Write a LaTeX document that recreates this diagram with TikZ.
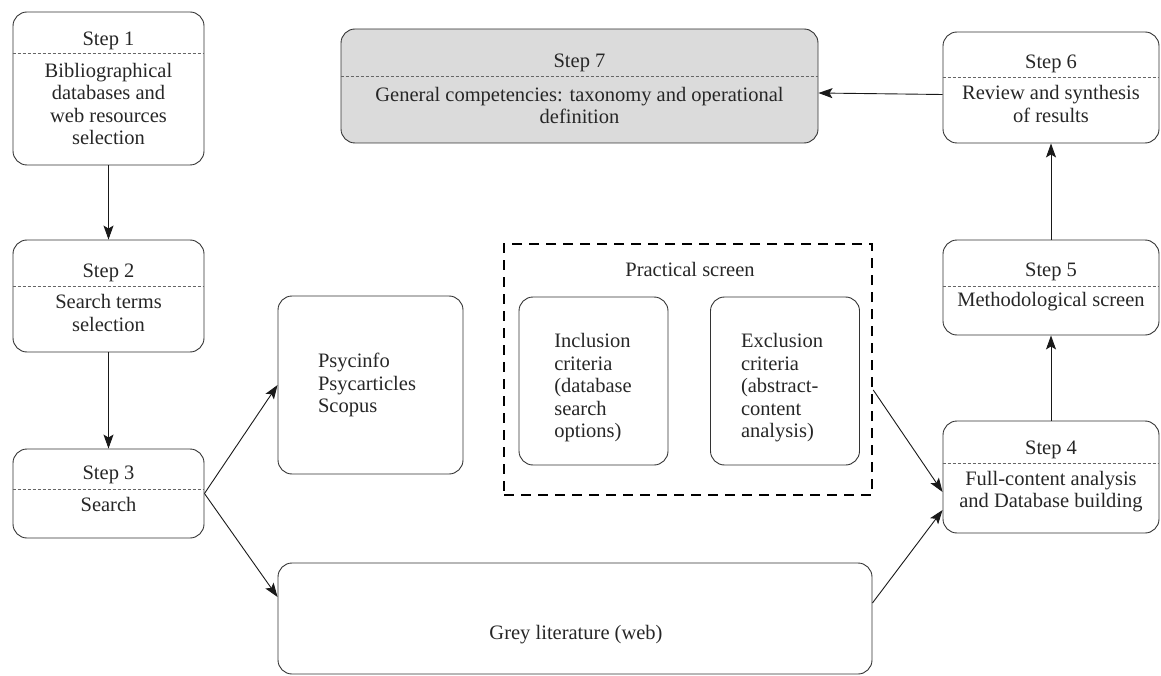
\documentclass[tikz,border=0pt]{standalone}
\usepackage{fontspec}
\setmainfont{Liberation Serif}
\usetikzlibrary{arrows.meta}

\begin{document}
\begin{tikzpicture}[x=1pt, y=-1pt,
        every node/.style={font=\fontsize{20.5}{22.5}\selectfont, text=black!85, inner sep=0pt},
        stepbox/.style={draw=black!80, line width=0.9pt, rounded corners=14pt},
        greybox/.style={stepbox, fill=black!14},
        screenbox/.style={draw=black, line width=2.5pt, dash pattern=on 10pt off 7pt},
        sepline/.style={draw=black!60, line width=0.8pt, dash pattern=on 3pt off 2pt},
        flow/.style={-{Stealth[length=14pt, width=10pt, inset=3pt]}, line width=0.9pt, black!90}]
        \useasboundingbox (0,0) rectangle (1161,676);

        \node[stepbox, minimum width=191pt, minimum height=153pt] (s1) at (108.5, 88.5) {};
        \node[stepbox, minimum width=191pt, minimum height=112pt] (s2) at (108.5, 296) {};
        \node[stepbox, minimum width=191pt, minimum height=89pt] (s3) at (108.5, 493.5) {};
        \node[stepbox, minimum width=216pt, minimum height=112pt] (s4) at (1051, 477) {};
        \node[stepbox, minimum width=216pt, minimum height=95pt] (s5) at (1051, 287.5) {};
        \node[stepbox, minimum width=216pt, minimum height=111pt] (s6) at (1051, 87.5) {};
        \node[greybox, minimum width=477pt, minimum height=114pt] (s7) at (579.5, 86) {};

        \node[stepbox, minimum width=185pt, minimum height=178pt] (psyc) at (370.5, 385) {};
        \node[stepbox, minimum width=594pt, minimum height=111pt] (grey) at (575, 618.5) {};
        \node[screenbox, minimum width=368pt, minimum height=251pt] (screen) at (688, 369.5) {};
        \node[stepbox, minimum width=149pt, minimum height=168pt] (incl) at (593.5, 381) {};
        \node[stepbox, minimum width=149pt, minimum height=168pt] (excl) at (785, 381) {};

        \draw[sepline] (s1.west |- 0,53) -- (s1.east |- 0,53);
        \draw[sepline] (s2.west |- 0,286) -- (s2.east |- 0,286);
        \draw[sepline] (s3.west |- 0,489) -- (s3.east |- 0,489);
        \draw[sepline] (s4.west |- 0,463) -- (s4.east |- 0,463);
        \draw[sepline] (s5.west |- 0,286) -- (s5.east |- 0,286);
        \draw[sepline] (s6.west |- 0,77) -- (s6.east |- 0,77);
        \draw[sepline] (s7.west |- 0,76) -- (s7.east |- 0,76);

        \node (s1t) at (108.5, 41) {Step 1};
        \node (s2t) at (108.5, 273) {Step 2};
        \node (s3t) at (108.5, 475) {Step 3};
        \node (s4t) at (1051, 450) {Step 4};
        \node (s5t) at (1051, 272) {Step 5};
        \node (s6t) at (1051, 64) {Step 6};
        \node (s7t) at (579.5, 63) {Step 7};

        \node[align=center] (s1b) at (108.5, 104) {Bibliographical\\databases and\\web resources\\selection};
        \node[align=center] (s2b) at (108.5, 313) {Search terms\\selection};
        \node[align=center] (s3b) at (108.5, 504) {Search};
        \node[align=center] (s4b) at (1051, 491.5) {Full-content analysis\\and Database building};
        \node[align=center] (s5b) at (1051, 302) {Methodological screen};
        \node[align=center] (s6b) at (1051, 104) {Review and synthesis\\of results};
        \node[align=center] (s7b) at (579.5, 105.5) {General competencies: taxonomy and operational\\definition};

        \node[align=left] (psyct) at (367, 385) {Psycinfo\\Psycarticles\\Scopus};
        \node (greyt) at (576, 635) {Grey literature (web)};
        \node (screent) at (690, 269) {Practical screen};
        \node[align=left] (inclt) at (593, 388) {Inclusion\\criteria\\(database\\search\\options)};
        \node[align=left] (exclt) at (782, 388) {Exclusion\\criteria\\(abstract-\\content\\analysis)};

        \draw[flow] (s1.south) -- (s2.north);
        \draw[flow] (s2.south) -- (s3.north);
        \draw[flow] (s3.east) -- (psyc.west);
        \draw[flow] (s3.east) -- ([yshift=21.5pt]grey.west);
        \draw[flow] ([yshift=-20.5pt]screen.east) -- ([yshift=-15pt]s4.west);
        \draw[flow] ([yshift=15.5pt]grey.east) -- ([yshift=-33pt]s4.west);
        \draw[flow] (s4.north) -- (s5.south);
        \draw[flow] (s5.north) -- (s6.south);
        \draw[flow] ([yshift=-7pt]s6.west) -- ([yshift=-7pt]s7.east);

    \end{tikzpicture}
\end{document}
